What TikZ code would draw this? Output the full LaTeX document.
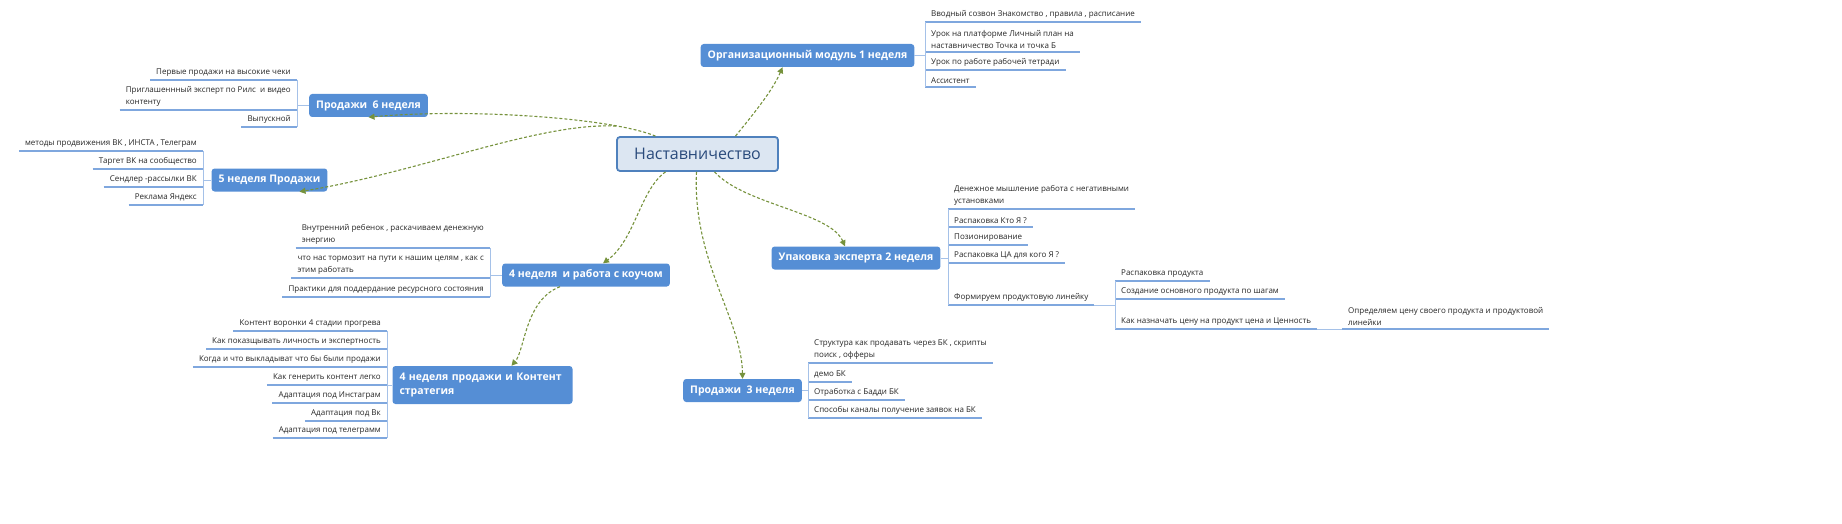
\documentclass[tikz,border=0pt]{standalone}
\usepackage{fontspec}
\setmainfont{Open Sans}
\usetikzlibrary{arrows.meta}
\definecolor{brfill}{HTML}{558ED5}
\definecolor{cfill}{HTML}{DCE6F2}
\definecolor{cline}{HTML}{4F81BD}
\definecolor{ctext}{HTML}{2A4B7C}
\definecolor{conn}{HTML}{76923C}
\definecolor{ulc}{HTML}{7FA7DE}
\definecolor{txt}{HTML}{262626}
\tikzset{
 central/.style={draw=cline,line width=1.8pt,fill=cfill,rounded corners=3pt,minimum width=161pt,minimum height=34pt,font=\fontsize{16}{18}\selectfont,text=ctext},
 branch/.style={fill=brfill,rounded corners=3pt,minimum height=23pt,inner xsep=7pt,font=\fontsize{10.5}{14}\selectfont\bfseries,text=white,align=left},
 leafr/.style={anchor=south west,inner xsep=6pt,inner ysep=3.5pt,font=\fontsize{8}{12}\selectfont,text=txt,align=left},
 leafl/.style={anchor=south east,inner xsep=6pt,inner ysep=3.5pt,font=\fontsize{8}{12}\selectfont,text=txt,align=left},
 ul/.style={draw=ulc,line width=1.1pt},
 brk/.style={draw=ulc!70,line width=0.8pt,rounded corners=2pt},
 conn/.style={draw=conn,line width=1.1pt,dash pattern=on 3pt off 2pt,-{Triangle[length=6pt,width=6pt]}},
}
\newcommand\leafR[4]{\node[leafr] (#1) at (#2,#3) {#4};\draw[ul] (#1.south west) -- (#1.south east);}
\newcommand\leafL[4]{\node[leafl] (#1) at (#2,#3) {#4};\draw[ul] (#1.south west) -- (#1.south east);}
\begin{document}
\begin{tikzpicture}[x=1pt,y=-1pt]
\useasboundingbox (0,0) rectangle (1842,524);
\node[central] (c) at (697.5,154) {Наставничество};
\node[branch] (org) at (807.5,55.5) {Организационный модуль 1 неделя};
\node[branch] (p6) at (368.5,105.5) {Продажи~ 6 неделя};
\node[branch] (w5) at (269.5,180) {5 неделя Продажи};
\node[branch] (w4) at (586,275) {4 неделя~ и работа с коучом};
\node[branch,minimum height=38pt,text width=166pt] (w4c) at (482.5,385) {4 неделя продажи и Контент стратегия};
\node[branch] (p3) at (742.5,390.5) {Продажи~ 3 неделя};
\node[branch] (up) at (856,258) {Упаковка эксперта 2 неделя};
% connectors
\draw[conn] ([xshift=38pt]c.north) .. controls (750,118) and (772,92) .. ([xshift=-25pt]org.south);
\draw[conn] ([xshift=-42pt]c.north) .. controls (612,118) and (470,108) .. ([xshift=0pt]p6.south);
\draw[conn] ([yshift=10pt]c.north west) .. controls (540,122) and (420,172) .. ([xshift=30pt]w5.south);
\draw[conn] ([xshift=-32pt]c.south) .. controls (640,190) and (635,240) .. ([xshift=17pt]w4.north);
\draw[conn] ([xshift=-26pt]w4.south) .. controls (525,300) and (525,350) .. ([xshift=29pt]w4c.north);
\draw[conn] ([xshift=-1pt]c.south) .. controls (692,260) and (742,320) .. (p3.north);
\draw[conn] ([xshift=17pt]c.south) .. controls (745,205) and (830,212) .. ([xshift=-11pt]up.north);
% org leaves
\leafR{o1}{925}{22}{Вводный созвон Знакомство , правила , расписание}
\leafR{o2}{925}{52}{Урок на платформе Личный план на\\наставничество Точка и точка Б}
\leafR{o3}{925}{70}{Урок по работе рабочей тетради}
\leafR{o4}{925}{87}{Ассистент}
\draw[brk] (o1.south west) -- (o4.south west);
\draw[brk] (org.east) -- (925,55.5);
% upakovka leaves
\leafR{u1}{948}{209}{Денежное мышление работа с негативными\\установками}
\leafR{u2}{948}{227}{Распаковка Кто Я ?}
\leafR{u3}{948}{245}{Позионирование}
\leafR{u4}{948}{263}{Распаковка ЦА для кого Я ?}
\leafR{u5}{948}{305}{Формируем продуктовую линейку}
\draw[brk] (u1.south west) -- (u5.south west);
\draw[brk] (up.east) -- (948,258);
\leafR{s1}{1115}{281}{Распаковка продукта}
\leafR{s2}{1115}{299}{Создание основного продукта по шагам}
\leafR{s3}{1115}{329}{Как назначать цену на продукт цена и Ценность}
\draw[brk] (s1.south west) -- (s3.south west);
\draw[brk] (u5.south east) -- (s1.south west |- u5.south);
\leafR{t1}{1342}{329}{Определяем цену своего продукта и продуктовой\\линейки}
\draw[brk] (s3.south east) -- (t1.south west);
% prod3 leaves
\leafR{q1}{808}{363}{Структура как продавать через БК , скрипты\\поиск , офферы}
\leafR{q2}{808}{382}{демо БК}
\leafR{q3}{808}{400}{Отработка с Бадди БК}
\leafR{q4}{808}{418}{Способы каналы получение заявок на БК}
\draw[brk] (q1.south west) -- (q4.south west);
\draw[brk] (p3.east) -- (808,390.5);
% prod6 leaves
\leafL{a1}{297}{80}{Первые продажи на высокие чеки}
\leafL{a2}{297}{110}{Приглашеннный эксперт по Рилс~ и видео\\контенту}
\leafL{a3}{297}{127}{Выпускной}
\draw[brk] (a1.south east) -- (a3.south east);
\draw[brk] (p6.west) -- (297,105.5);
% week5 leaves
\leafL{b1}{203}{151}{методы продвижения ВК , ИНСТА , Телеграм}
\leafL{b2}{203}{169}{Таргет ВК на сообщество}
\leafL{b3}{203}{187}{Сендлер -рассылки ВК}
\leafL{b4}{203}{205}{Реклама Яндекс}
\draw[brk] (b1.south east) -- (b4.south east);
\draw[brk] (w5.west) -- (203,180);
% week4 coach leaves
\leafL{d1}{490}{248}{Внутренний ребенок , раскачиваем денежную\\энергию}
\leafL{d2}{490}{278}{что нас тормозит на пути к нашим целям , как с\\этим работать}
\leafL{d3}{490}{297}{Практики для поддердание ресурсного состояния}
\draw[brk] (d1.south east) -- (d3.south east);
\draw[brk] (w4.west) -- (490,275);
% week4 content leaves
\leafL{e1}{387}{331}{Контент воронки 4 стадии прогрева}
\leafL{e2}{387}{349}{Как показщывать личность и экспертность}
\leafL{e3}{387}{367}{Когда и что выкладыват что бы были продажи}
\leafL{e4}{387}{385}{Как генерить контент легко}
\leafL{e5}{387}{403}{Адаптация под Инстаграм}
\leafL{e6}{387}{421}{Адаптация под Вк}
\leafL{e7}{387}{438}{Адаптация под телеграмм}
\draw[brk] (e1.south east) -- (e7.south east);
\draw[brk] (w4c.west) -- (387,385);
\end{tikzpicture}
\end{document}
